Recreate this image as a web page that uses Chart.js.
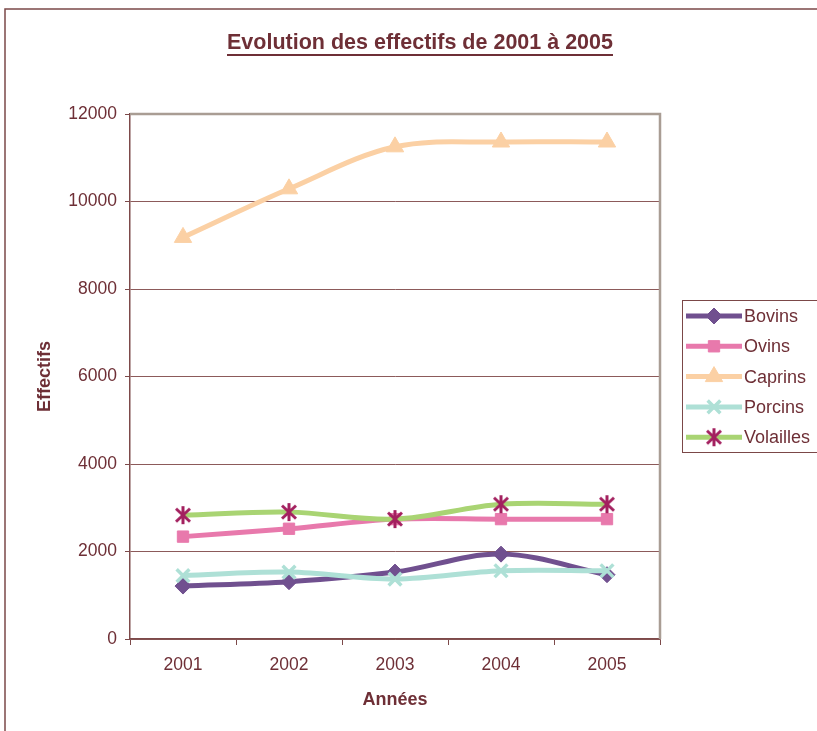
<!DOCTYPE html>
<html>
<head>
<meta charset="utf-8">
<script src="https://cdn.jsdelivr.net/npm/chart.js@4/dist/chart.umd.min.js"></script>
<style>
html,body{margin:0;padding:0;background:#fff;}
#wrap{position:absolute;left:0;top:0;width:817px;height:731px;}
</style>
</head>
<body>
<div id="wrap"><canvas id="c" width="817" height="731"></canvas></div>
<script>
const years = ['2001', '2002', '2003', '2004', '2005'];
const bovins = [1210, 1310, 1530, 1940, 1470];
const ovins = [2340, 2520, 2740, 2740, 2740];
const caprins = [9180, 10290, 11250, 11360, 11360];
const porcins = [1450, 1530, 1370, 1560, 1560];
const volailles = [2830, 2900, 2740, 3080, 3080];
const seriesNames = ['Bovins', 'Ovins', 'Caprins', 'Porcins', 'Volailles'];
const titleText = 'Evolution des effectifs de 2001 à 2005';
const yTitle = 'Effectifs';
const xTitle = 'Années';

const TXT = '#6e2f36';
const AXIS = '#7d4a4a';
const GRID = '#8c5a5a';
const FRAME = '#a99d94';
const FONT = "'Liberation Sans', Arial, sans-serif";

// six-armed asterisk marker
function makeStar(color) {
  const c = document.createElement('canvas');
  c.width = 20; c.height = 20;
  const g = c.getContext('2d');
  g.strokeStyle = color;
  g.lineWidth = 3;
  g.lineCap = 'butt';
  g.beginPath();
  g.moveTo(10, 1); g.lineTo(10, 19);
  g.moveTo(3, 3.5); g.lineTo(17, 16.5);
  g.moveTo(17, 3.5); g.lineTo(3, 16.5);
  g.stroke();
  return c;
}
const starImg = makeStar('#a3205f');

const styles = [
  {line:'#70508f', fill:'#70508f', point:'rectRot', r:8, bw:1},
  {line:'#e879ac', fill:'#e879ac', point:'rect', r:8, bw:1},
  {line:'#fbd0a4', fill:'#fbd0a4', point:'triangle', r:10, bw:1},
  {line:'#aee0d6', fill:'#aee0d6', point:'crossRot', r:9, bw:3.5},
  {line:'#a9d473', fill:'#a3205f', point:starImg, r:10, bw:1}
];
const values = [bovins, ovins, caprins, porcins, volailles];

const datasets = seriesNames.map((n, i) => ({
  label: n,
  data: values[i],
  borderColor: styles[i].line,
  backgroundColor: styles[i].fill,
  borderWidth: 5,
  tension: 0.35,
  pointStyle: styles[i].point,
  pointRadius: styles[i].r,
  pointHoverRadius: styles[i].r,
  pointBackgroundColor: styles[i].fill,
  pointBorderColor: styles[i].fill,
  pointBorderWidth: styles[i].bw,
  order: 5 - i
}));

const decor = {
  id: 'decor',
  beforeDraw(chart) {
    const ctx = chart.ctx;
    ctx.save();
    ctx.strokeStyle = '#7b4848';
    ctx.lineWidth = 1.5;
    ctx.beginPath();
    ctx.moveTo(5, 731);
    ctx.lineTo(5, 9);
    ctx.lineTo(817, 9);
    ctx.stroke();
    ctx.fillStyle = TXT;
    ctx.font = 'bold 21.5px ' + FONT;
    ctx.textAlign = 'center';
    ctx.textBaseline = 'middle';
    ctx.fillText(titleText, 420, 43);
    const w = ctx.measureText(titleText).width;
    ctx.fillRect(420 - w / 2, 54, w, 2);
    ctx.restore();
  },
  beforeDatasetsDraw(chart) {
    const {ctx, chartArea: a} = chart;
    ctx.save();
    ctx.strokeStyle = FRAME;
    ctx.lineWidth = 2.5;
    ctx.beginPath();
    ctx.moveTo(a.left, a.top);
    ctx.lineTo(a.right, a.top);
    ctx.lineTo(a.right, a.bottom);
    ctx.stroke();
    ctx.restore();
  },
  afterDraw(chart) {
    const ctx = chart.ctx;
    ctx.save();
    ctx.strokeStyle = '#7b4848';
    ctx.lineWidth = 1;
    ctx.strokeRect(682.5, 300.5, 150, 152);
    ctx.font = '18px ' + FONT;
    ctx.textBaseline = 'middle';
    ctx.textAlign = 'left';
    seriesNames.forEach((n, i) => {
      const y = 316 + i * 30.3;
      const s = styles[i];
      ctx.strokeStyle = s.line;
      ctx.lineWidth = 5;
      ctx.beginPath();
      ctx.moveTo(686, y);
      ctx.lineTo(742, y);
      ctx.stroke();
      ctx.fillStyle = s.fill;
      ctx.strokeStyle = s.fill;
      ctx.lineWidth = s.bw;
      Chart.helpers.drawPoint(ctx, {pointStyle: s.point, radius: s.r, rotation: 0, borderWidth: s.bw}, 714, y);
      ctx.fillStyle = TXT;
      ctx.fillText(n, 744, y + 1);
    });
    ctx.restore();
  }
};

new Chart(document.getElementById('c'), {
  type: 'line',
  data: {labels: years, datasets},
  options: {
    responsive: false,
    animation: false,
    events: [],
    layout: {padding: {left: 0, top: 114, right: 157, bottom: 0}},
    plugins: {legend: {display: false}, title: {display: false}, tooltip: {enabled: false}},
    scales: {
      x: {
        offset: true,
        afterFit: s => { s.height = 92; },
        grid: {offset: true, drawOnChartArea: false, tickLength: 6, color: AXIS, lineWidth: 1},
        border: {color: AXIS, width: 1.5},
        ticks: {color: TXT, font: {family: FONT, size: 17.5}, padding: 10},
        title: {display: true, text: xTitle, color: TXT, font: {family: FONT, size: 18, weight: 'bold'}, padding: {top: 0, bottom: 20}}
      },
      y: {
        min: 0, max: 12000,
        afterFit: s => { s.width = 130; },
        grid: {
          color: c => (c.tick && c.tick.value === 12000) ? 'rgba(0,0,0,0)' : GRID,
          tickColor: AXIS, tickLength: 5, lineWidth: 1
        },
        border: {color: AXIS, width: 1.5},
        ticks: {stepSize: 2000, color: TXT, font: {family: FONT, size: 17.5}, padding: 8, callback: v => String(v)},
        title: {display: true, text: yTitle, color: TXT, font: {family: FONT, size: 18, weight: 'bold'}, padding: {top: 34, bottom: 0}}
      }
    }
  },
  plugins: [decor]
});
</script>
</body>
</html>
